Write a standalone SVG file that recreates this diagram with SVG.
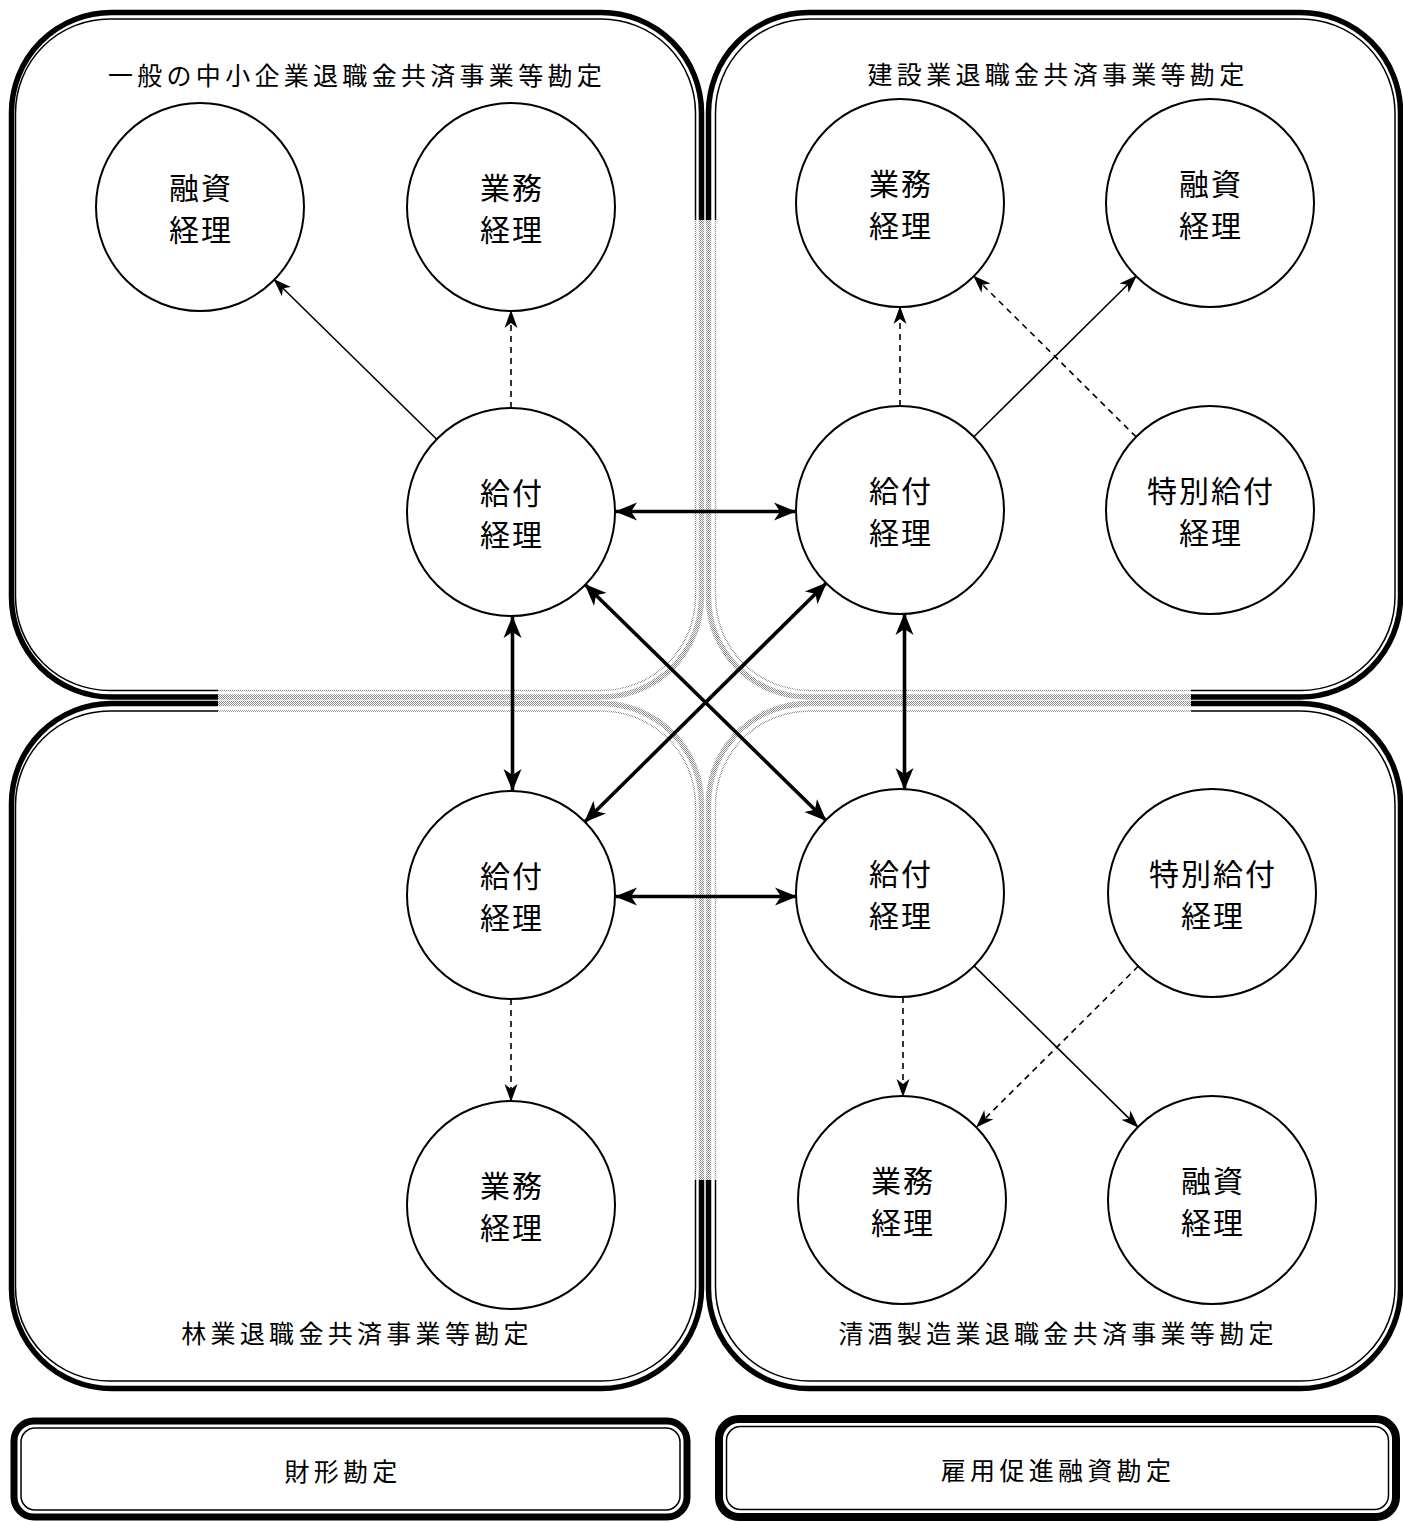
<svg xmlns="http://www.w3.org/2000/svg" width="1403" height="1522" viewBox="0 0 1403 1522">
<style>
.thick{fill:none;stroke-width:5.5}
.thin{fill:none;stroke-width:1.5}
.blk{stroke:#000}
.node circle{fill:#fff;stroke:#000;stroke-width:2}
.nt{font-family:"Noto Sans CJK JP","Noto Sans",sans-serif;font-size:30px;letter-spacing:2px;text-anchor:middle;dominant-baseline:central;fill:#000}
.tt{font-family:"Noto Sans CJK JP","Noto Sans",sans-serif;font-size:25px;letter-spacing:4.3px;text-anchor:middle;dominant-baseline:central;fill:#000}
.c1{fill:none;stroke:#000;stroke-width:1.6}
.c2{fill:none;stroke:#000;stroke-width:3.6}
.dash{stroke-dasharray:6,5}
</style>
<defs>
<pattern id="dots" width="2" height="2" patternUnits="userSpaceOnUse">
<rect x="0" y="0" width="1" height="1" fill="#8c8c8c"/>
<rect x="1" y="1" width="1" height="1" fill="#8c8c8c"/>
</pattern>
<clipPath id="inner">
<rect x="218" y="560" width="973" height="280"/>
<rect x="560" y="220" width="290" height="960"/>
</clipPath>
<mask id="outer" maskUnits="userSpaceOnUse" x="0" y="0" width="1403" height="1522">
<rect x="0" y="0" width="1403" height="1522" fill="#fff"/>
<rect x="218" y="560" width="973" height="280" fill="#000"/>
<rect x="560" y="220" width="290" height="960" fill="#000"/>
</mask>
<marker id="ah2" markerUnits="userSpaceOnUse" markerWidth="22" markerHeight="20" viewBox="0 0 22 20" refX="21" refY="10" orient="auto-start-reverse">
<path d="M0,1 L22,10 L0,19 L6,10 Z" fill="#000"/>
</marker>
<marker id="ah1" markerUnits="userSpaceOnUse" markerWidth="18" markerHeight="14" viewBox="0 0 18 14" refX="17" refY="7" orient="auto">
<path d="M0,0.5 L18,7 L0,13.5 L5,7 Z" fill="#000"/>
</marker>
<g id="frames">
<rect id="f-tl-o" class="thick" x="11.5" y="12.5" width="690" height="684.5" rx="100"/>
<rect id="f-tl-i" class="thin" x="15.5" y="19" width="680" height="671.5" rx="94"/>
<rect id="f-tr-o" class="thick" x="708.5" y="12.5" width="692" height="684.5" rx="100"/>
<rect id="f-tr-i" class="thin" x="715.5" y="19" width="679.5" height="671.5" rx="94"/>
<rect id="f-bl-o" class="thick" x="11.5" y="703.5" width="690" height="685" rx="100"/>
<rect id="f-bl-i" class="thin" x="15.5" y="711" width="680" height="670" rx="94"/>
<rect id="f-br-o" class="thick" x="708.5" y="703.5" width="692" height="685" rx="100"/>
<rect id="f-br-i" class="thin" x="715.5" y="711" width="679.5" height="670" rx="94"/>
</g>
</defs>

<g id="quadrant-frames">
<use href="#frames" class="blk" stroke="#000" mask="url(#outer)"/>
<g clip-path="url(#inner)">
<use href="#frames" stroke="url(#dots)"/>
</g>
</g>

<g id="titles">
<text class="tt" x="357" y="74">一般の中小企業退職金共済事業等勘定</text>
<text class="tt" x="1058" y="73">建設業退職金共済事業等勘定</text>
<text class="tt" x="357" y="1332">林業退職金共済事業等勘定</text>
<text class="tt" x="1058" y="1332">清酒製造業退職金共済事業等勘定</text>
</g>

<g id="box-zaikei">
<rect x="14" y="1421" width="673" height="96" rx="20" fill="none" stroke="#000" stroke-width="7"/>
<rect x="21" y="1428" width="659" height="82" rx="14" fill="none" stroke="#000" stroke-width="1.5"/>
<text class="tt" x="343" y="1470">財形勘定</text>
</g>
<g id="box-koyou">
<rect x="719" y="1419" width="677" height="98" rx="20" fill="none" stroke="#000" stroke-width="8"/>
<rect x="726.5" y="1426.5" width="662" height="83" rx="14" fill="none" stroke="#000" stroke-width="1.5"/>
<text class="tt" x="1058" y="1469">雇用促進融資勘定</text>
</g>

<g id="connectors">
<line class="c1" x1="436.7" y1="439.2" x2="274.3" y2="279.8" marker-end="url(#ah1)"/>
<line class="c1 dash" x1="511" y1="408" x2="511" y2="311" marker-end="url(#ah1)"/>
<line class="c2" x1="616" y1="511.5" x2="795" y2="511.5" marker-start="url(#ah2)" marker-end="url(#ah2)"/>
<line class="c2" x1="512.5" y1="617" x2="512.5" y2="790" marker-start="url(#ah2)" marker-end="url(#ah2)"/>
<line class="c2" x1="585.3" y1="584.8" x2="825.7" y2="820.2" marker-start="url(#ah2)" marker-end="url(#ah2)"/>
<line class="c2" x1="826.1" y1="583.2" x2="584.9" y2="821.8" marker-start="url(#ah2)" marker-end="url(#ah2)"/>
<line class="c2" x1="904.5" y1="614" x2="904.5" y2="789" marker-start="url(#ah2)" marker-end="url(#ah2)"/>
<line class="c2" x1="616" y1="896.5" x2="796" y2="896.5" marker-start="url(#ah2)" marker-end="url(#ah2)"/>
<line class="c1 dash" x1="900" y1="406" x2="900" y2="307" marker-end="url(#ah1)"/>
<line class="c1" x1="973.9" y1="436.8" x2="1136.1" y2="276.2" marker-end="url(#ah1)"/>
<line class="c1 dash" x1="1136.1" y1="436.8" x2="973.9" y2="276.2" marker-end="url(#ah1)"/>
<line class="c1 dash" x1="511" y1="999" x2="511" y2="1101" marker-end="url(#ah1)"/>
<line class="c1 dash" x1="903" y1="997" x2="903" y2="1096" marker-end="url(#ah1)"/>
<line class="c1" x1="974.1" y1="965.9" x2="1137.9" y2="1127.1" marker-end="url(#ah1)"/>
<line class="c1 dash" x1="1138.2" y1="966.3" x2="976.8" y2="1126.7" marker-end="url(#ah1)"/>
</g>

<g id="n-tl-yushi" class="node"><circle cx="200" cy="207" r="104"/><text class="nt" x="201" y="186">融資</text><text class="nt" x="201" y="228">経理</text></g>
<g id="n-tl-gyomu" class="node"><circle cx="511" cy="207" r="104"/><text class="nt" x="512" y="186">業務</text><text class="nt" x="512" y="228">経理</text></g>
<g id="n-tl-kyufu" class="node"><circle cx="511" cy="512" r="104"/><text class="nt" x="512" y="491">給付</text><text class="nt" x="512" y="533">経理</text></g>
<g id="n-tr-gyomu" class="node"><circle cx="900" cy="203" r="104"/><text class="nt" x="901" y="182">業務</text><text class="nt" x="901" y="224">経理</text></g>
<g id="n-tr-yushi" class="node"><circle cx="1210" cy="203" r="104"/><text class="nt" x="1211" y="182">融資</text><text class="nt" x="1211" y="224">経理</text></g>
<g id="n-tr-kyufu" class="node"><circle cx="900" cy="510" r="104"/><text class="nt" x="901" y="489">給付</text><text class="nt" x="901" y="531">経理</text></g>
<g id="n-tr-tokubetsu" class="node"><circle cx="1210" cy="510" r="104"/><text class="nt" x="1211" y="489">特別給付</text><text class="nt" x="1211" y="531">経理</text></g>
<g id="n-bl-kyufu" class="node"><circle cx="511" cy="895" r="104"/><text class="nt" x="512" y="874">給付</text><text class="nt" x="512" y="916">経理</text></g>
<g id="n-bl-gyomu" class="node"><circle cx="511" cy="1205" r="104"/><text class="nt" x="512" y="1184">業務</text><text class="nt" x="512" y="1226">経理</text></g>
<g id="n-br-kyufu" class="node"><circle cx="900" cy="893" r="104"/><text class="nt" x="901" y="872">給付</text><text class="nt" x="901" y="914">経理</text></g>
<g id="n-br-tokubetsu" class="node"><circle cx="1212" cy="893" r="104"/><text class="nt" x="1213" y="872">特別給付</text><text class="nt" x="1213" y="914">経理</text></g>
<g id="n-br-gyomu" class="node"><circle cx="902" cy="1200" r="104"/><text class="nt" x="903" y="1179">業務</text><text class="nt" x="903" y="1221">経理</text></g>
<g id="n-br-yushi" class="node"><circle cx="1212" cy="1200" r="104"/><text class="nt" x="1213" y="1179">融資</text><text class="nt" x="1213" y="1221">経理</text></g>
</svg>
